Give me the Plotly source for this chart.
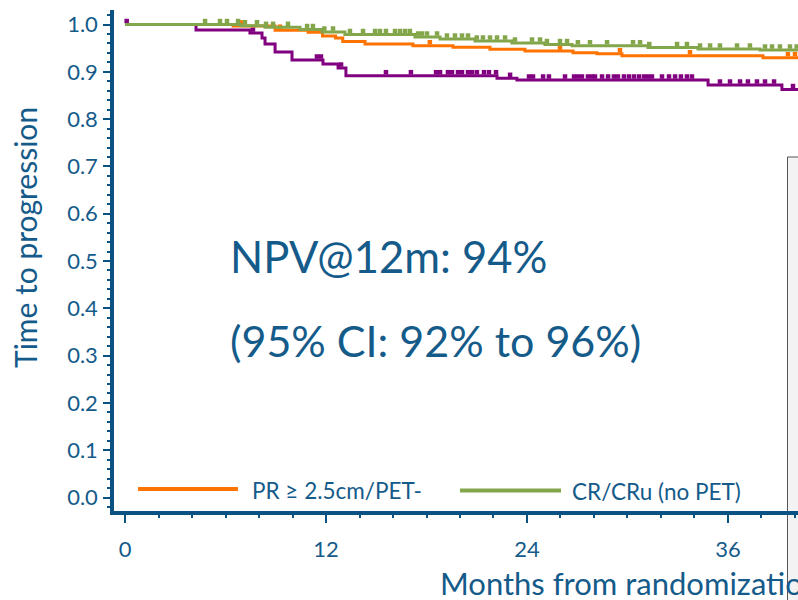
import numpy as np
import plotly.graph_objects as go

# ---- data ----
# step curves: event times (months) and survival after each step
purple_t = [0, 4.24, 7.46, 8.18, 8.36, 8.96, 9.97, 11.82, 12.72, 13.19, 22.21, 23.40, 34.81, 39.22, 40.6]
purple_s = [1.0, 0.9884, 0.982, 0.9715, 0.9588, 0.9419, 0.925, 0.9165, 0.908, 0.8918, 0.8863, 0.8827, 0.8721, 0.8626, 0.8626]
purple_c = [0.1, 7.64, 11.46, 11.7, 12.9, 15.58, 17.07, 18.57, 18.81, 19.28, 19.52, 19.88, 20.12, 20.48, 20.72,
            21.01, 21.43, 21.73, 22.15, 22.99, 24.12, 24.36, 24.96, 25.31, 26.27, 26.81, 27.04, 27.28, 27.64,
            27.88, 28.06, 28.48, 28.84, 29.19, 29.43, 29.79, 30.09, 30.39, 30.69, 30.99, 31.22, 31.46, 32.06,
            32.48, 32.84, 33.19, 33.55, 33.85, 35.52, 36.12, 36.72, 37.19, 37.73, 38.21, 38.75, 39.88]

orange_t = [0, 6.45, 8.96, 10.93, 11.79, 12.57, 13.0, 14.33, 17.19, 19.58, 21.79, 23.88, 26.75, 28.18, 29.67, 38.09, 40.6]
orange_s = [1.0, 0.997, 0.988, 0.9835, 0.9757, 0.9715, 0.964, 0.9588, 0.9552, 0.952, 0.9476, 0.944, 0.9404, 0.9383, 0.934, 0.930, 0.930]
orange_c = [6.99, 9.25, 18.2, 25.97, 29.55, 33.73, 39.58, 40.0]

green_t = [0, 6.9, 8.36, 10.45, 11.76, 13.13, 17.31, 18.81, 20.9, 23.1, 25.07, 26.69, 31.22, 34.21, 37.91, 40.6]
green_s = [1.0, 0.9975, 0.9941, 0.9894, 0.9841, 0.9789, 0.9736, 0.9693, 0.9651, 0.9609, 0.9577, 0.9552, 0.9514, 0.9482, 0.9461, 0.9461]
green_c = [4.78, 5.67, 6.09, 6.75, 7.16, 7.88, 8.42, 8.84, 9.73, 10.87, 11.22, 11.9, 12.42, 13.43, 14.21, 14.93,
           15.22, 15.58, 16.12, 16.42, 16.72, 17.01, 17.5, 17.73, 18.03, 18.63, 19.22, 19.70, 20.12, 20.48, 21.0,
           21.37, 21.79, 22.21, 22.69, 23.28, 24.30, 24.78, 25.19, 25.97, 26.39, 27.04, 27.76, 28.78, 30.33,
           30.75, 31.3, 32.96, 33.55, 34.33, 34.93, 35.52, 36.54, 37.31, 38.21, 38.63, 39.10, 39.70, 40.1]

x_ticks = [0, 12, 24, 36]
y_ticks = [0.0, 0.1, 0.2, 0.3, 0.4, 0.5, 0.6, 0.7, 0.8, 0.9, 1.0]
legend_names = ["PR ≥ 2.5cm/PET-", "CR/CRu (no PET)"]
note_lines = ["NPV@12m: 94%", "(95% CI: 92% to 96%)"]
x_title = "Months from randomization"
y_title = "Time to progression"

# ---- style ----
PURPLE = "#800080"
ORANGE = "#ff7300"
GREEN = "#84a64b"
AXIS = "#0a5282"
TEXT = "#155b8a"
FONT = "Lato"

W, H = 798, 600
ML, MR, MT, MB = 114, 0, 10, 89
PW, PH = W - ML - MR, H - MT - MB
TICK_OFF = 3.5 / 473.0  # censor marks sit just above the line


def px(x):
    return (x - ML) / PW


def py(y):
    return (H - MB - y) / PH


def step_at(t, s, c):
    idx = np.searchsorted(np.array(t), np.array(c), side="right") - 1
    return np.array(s)[idx]


fig = go.Figure()
for t, s, c, col in [(purple_t, purple_s, purple_c, PURPLE),
                     (orange_t, orange_s, orange_c, ORANGE),
                     (green_t, green_s, green_c, GREEN)]:
    fig.add_trace(go.Scatter(x=t, y=s, mode="lines", line=dict(color=col, width=3, shape="hv"),
                             showlegend=False, hoverinfo="skip"))
    cy = step_at(t, s, c) + TICK_OFF
    fig.add_trace(go.Scatter(x=c, y=cy, mode="markers",
                             marker=dict(symbol="square", size=4.5, color=col, line=dict(width=0)),
                             showlegend=False, hoverinfo="skip"))

fig.update_layout(
    width=W, height=H,
    margin=dict(l=ML, r=MR, t=MT, b=MB, pad=0),
    paper_bgcolor="white", plot_bgcolor="white",
    font=dict(family=FONT, color=TEXT, size=22),
    showlegend=False,
)
fig.update_xaxes(
    range=[-0.657, 40.18], tickvals=x_ticks, ticktext=[str(v) for v in x_ticks],
    showgrid=False, zeroline=False, showline=True, linewidth=3.5, linecolor=AXIS,
    ticks="outside", ticklen=8, tickwidth=2, tickcolor=AXIS, ticklabelstandoff=8,
    tickfont=dict(size=22, color=TEXT, family=FONT),
    minor=dict(dtick=2, tick0=0, ticks="outside", ticklen=3, tickwidth=2, tickcolor=AXIS, showgrid=False),
)
fig.update_yaxes(
    range=[-0.0285, 1.0307], tickvals=y_ticks, ticktext=[f"{v:.1f}" for v in y_ticks],
    showgrid=False, zeroline=False, showline=True, linewidth=3.5, linecolor=AXIS,
    ticks="outside", ticklen=7, tickwidth=2, tickcolor=AXIS, ticklabelstandoff=1,
    tickfont=dict(size=22, color=TEXT, family=FONT),
    minor=dict(dtick=0.02, tick0=0, ticks="outside", ticklen=3, tickwidth=1.5, tickcolor=AXIS, showgrid=False),
)

# grey box partly visible on the right edge
fig.add_shape(type="rect", xref="paper", yref="paper", x0=px(787.5), x1=px(830), y0=py(640), y1=py(157),
              line=dict(color="#555555", width=1), fillcolor="#f3f3f3", layer="below")

# legend inside plot
fig.add_shape(type="line", xref="paper", yref="paper", x0=px(138), x1=px(238), y0=py(489), y1=py(489),
              line=dict(color=ORANGE, width=4))
fig.add_shape(type="line", xref="paper", yref="paper", x0=px(460), x1=px(561), y0=py(490.5), y1=py(490.5),
              line=dict(color=GREEN, width=4))
fig.add_annotation(xref="paper", yref="paper", x=px(250), y=py(490), text=legend_names[0], showarrow=False,
                   xanchor="left", yanchor="middle", font=dict(size=22.5, color=TEXT, family=FONT))
fig.add_annotation(xref="paper", yref="paper", x=px(570), y=py(491), text=legend_names[1], showarrow=False,
                   xanchor="left", yanchor="middle", font=dict(size=22.5, color=TEXT, family=FONT))

# big note text
fig.add_annotation(xref="paper", yref="paper", x=px(228), y=py(256), text=note_lines[0], showarrow=False,
                   xanchor="left", yanchor="middle", font=dict(size=43.5, color=TEXT, family=FONT))
fig.add_annotation(xref="paper", yref="paper", x=px(228), y=py(340), text=note_lines[1], showarrow=False,
                   xanchor="left", yanchor="middle", font=dict(size=43, color=TEXT, family=FONT))

# axis titles
fig.add_annotation(xref="paper", yref="paper", x=px(25), y=py(238), text=y_title, showarrow=False,
                   textangle=-90, xanchor="center", yanchor="middle", font=dict(size=30, color=TEXT, family=FONT))
fig.add_annotation(xref="paper", yref="paper", x=px(438), y=py(583), text=x_title, showarrow=False,
                   xanchor="left", yanchor="middle", font=dict(size=31, color=TEXT, family=FONT))

fig.write_html("out.html")
